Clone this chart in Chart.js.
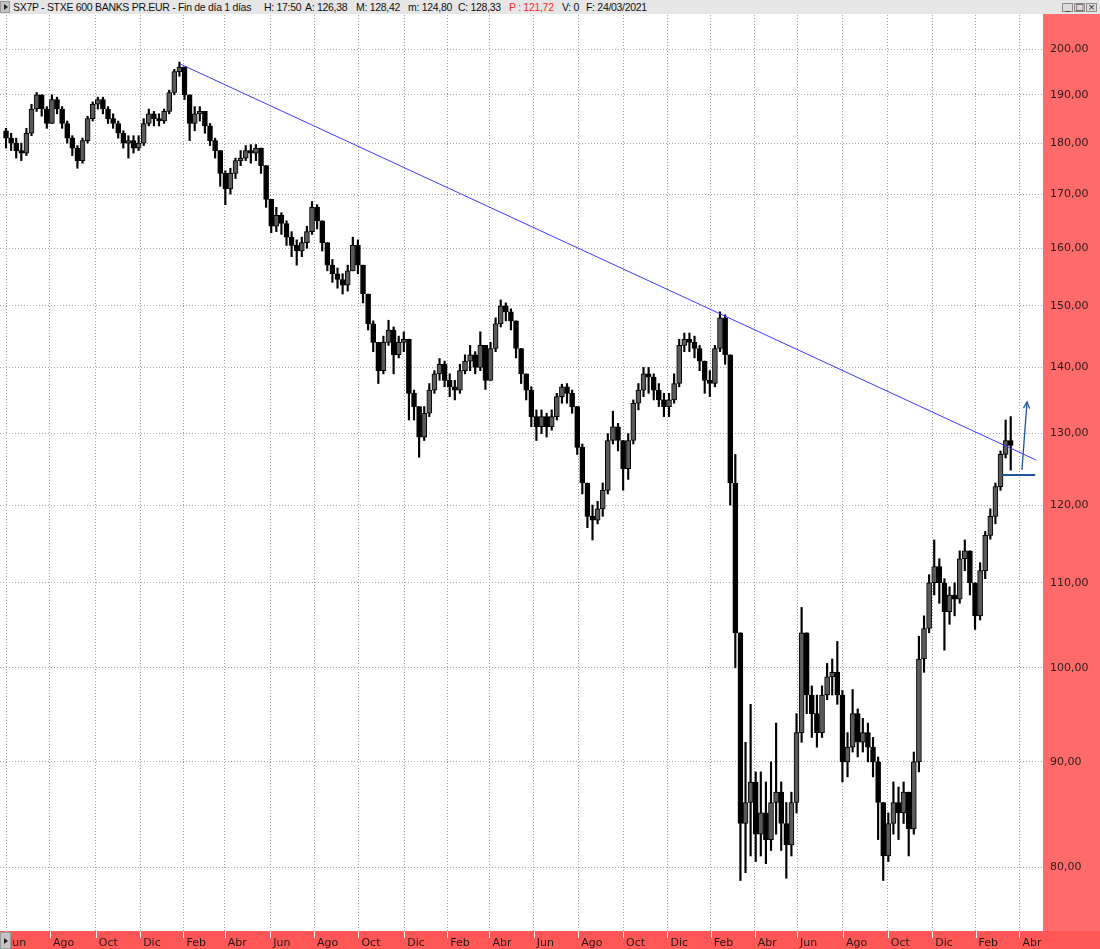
<!DOCTYPE html>
<html lang="es">
<head>
  <meta charset="UTF-8">
  <title>SX7P - STXE 600 BANKS PR.EUR</title>
  <script src="https://cdn.jsdelivr.net/npm/chart.js"></script>
  <style>
    html, body { margin: 0; padding: 0; background: #fff; }
    #wrap { position: relative; width: 1100px; height: 949px; overflow: hidden; }
    #chart { position: absolute; left: 0; top: 0; }
    .topbar {
      position: absolute; left: 0; top: 0; width: 1100px; height: 14px;
      background: #e6e6e6;
      font-family: "Liberation Sans", Arial, sans-serif; font-size: 10.5px; color: #111;
      letter-spacing: -0.3px;
    }
    .topbar span { position: absolute; top: 1px; white-space: nowrap; }
    .topbar .red { color: #ff2a2a; }
    .btn {
      position: absolute; background: #c4c4c4; border: 1px solid #9a9a9a; box-sizing: border-box;
    }
    .btn::after {
      content: ""; position: absolute; left: 3px; top: 50%; margin-top: -3px;
      border-left: 4px solid #222; border-top: 3px solid transparent; border-bottom: 3px solid transparent;
    }
    .win {
      position: absolute; top: 3px; width: 11px; height: 9px; box-sizing: border-box;
      border: 1px solid #8c8c8c; background: #dcdcdc;
      font: 9px/7px "DejaVu Sans", sans-serif; color: #222; text-align: center; letter-spacing: 0;
    }
  </style>
</head>
<body>
<div id="wrap">
  <canvas id="chart" width="1100" height="949"></canvas>
  <div class="topbar">
    <div class="btn" style="left:0;top:1px;width:10px;height:12px;"></div>
    <span style="left:13px">SX7P - STXE 600 BANKS PR.EUR - Fin de día 1 días</span>
    <span style="left:264px">H: 17:50</span>
    <span style="left:305px">A: 126,38</span>
    <span style="left:356px">M: 128,42</span>
    <span style="left:408px">m: 124,80</span>
    <span style="left:458px">C: 128,33</span>
    <span style="left:509px" class="red">P : 121,72</span>
    <span style="left:562px">V: 0</span>
    <span style="left:586px">F: 24/03/2021</span>
    <div class="win" style="left:1062px">_</div>
    <div class="win" style="left:1074px">□</div>
    <div class="win" style="left:1086px">×</div>
  </div>
  <div class="btn" style="left:0;top:932px;width:11px;height:17px;"></div>
</div>

<script>
  // axis labels (x in weeks since start of Jun 2017)
  const monthLabels = ['Jun','Ago','Oct','Dic','Feb','Abr','Jun','Ago','Oct','Dic','Feb','Abr',
                       'Jun','Ago','Oct','Dic','Feb','Abr','Jun','Ago','Oct','Dic','Feb','Abr'];
  const monthTicks = [0, 8.6, 17.6, 26.3, 34.8, 42.9, 51.8, 60.4, 69.1, 78.1, 86.5, 94.8,
                      103.5, 112.2, 121, 129.7, 138.2, 146.8, 155.1, 164.1, 172.9, 181.6, 190.1, 198.7];
  const priceTicks = [80, 90, 100, 110, 120, 130, 140, 150, 160, 170, 180, 190, 200];

  // weekly candles
  const firstOpen = 182.5;
  const weekClose = [
    181, 180, 178.5, 178, 182, 187, 190, 187, 184, 189,
    187, 184, 181, 179, 176.5, 180.5, 185, 188, 189, 187,
    185, 184, 182, 180, 180.5, 179, 180, 184, 186, 185,
    184.5, 186.5, 190.5, 195, 196, 190, 184, 186, 186.5, 183.5,
    180.5, 178.5, 174, 171, 174, 176.5, 177, 178.5, 178, 179,
    175.5, 169, 164, 166, 164.5, 162, 160.5, 159.5, 161, 163,
    167.5, 165, 161, 157, 155.5, 154.5, 153.5, 156, 160.5, 157,
    152, 147, 144, 139.5, 144, 146, 142, 144, 144.5, 136,
    134, 129.5, 133, 136.5, 139, 140.5, 138, 137, 136.5, 139.5,
    141, 142, 140, 143.5, 138, 143, 147, 150, 149, 147.5,
    143, 139, 136.5, 132.5, 131, 132.5, 131, 132.5, 135.5, 137,
    136, 134, 128, 123, 118.5, 118, 119.5, 122, 129, 131,
    129, 125, 129, 134.5, 136.5, 139, 138.5, 136.5, 135, 134,
    135, 137.5, 143.5, 144.5, 144, 143, 141, 138, 137.5, 143,
    148, 142, 123, 104, 84, 86, 88, 83, 85, 82.5,
    86, 87, 84, 82, 86, 93, 104, 97, 95, 93,
    97, 99, 99.5, 97, 90, 91.5, 95, 92, 93, 91.5,
    90, 86, 81, 84, 86, 85, 87, 83.5, 90, 101,
    104.5, 110, 112, 110, 106.5, 108.5, 108, 113, 114, 110,
    106, 111.5, 116, 118.5, 122.5, 127, 129, 128.3
  ];
  const weekHigh = [
    183, 182, 181, 180, 183, 188, 190.5, 190, 187.5, 190,
    189.5, 187.5, 184.5, 181.5, 179.5, 181, 185.5, 188.5, 189.5, 189.5,
    187.5, 186, 184.5, 182.5, 181.5, 181.5, 181.5, 185, 187, 186.5,
    186, 187, 191, 195.5, 197.1, 196, 190, 187.5, 187.5, 186.5,
    184, 181, 178.5, 174.5, 175, 177, 178.5, 179.5, 179.7, 179.7,
    179, 175.5, 169, 167.5, 166.5, 165, 163, 161.5, 162, 164,
    168.6, 168, 165, 161, 158, 156.5, 155.5, 157, 162, 161.5,
    157, 152, 147.5, 144, 145, 147.6, 146.5, 145, 145.7, 144.5,
    136.5, 134, 134, 137.5, 139.5, 141.4, 141, 139, 138, 140.5,
    142, 143.5, 142.5, 145.7, 143.5, 144, 148, 151, 150.5, 149.5,
    147.5, 143, 139, 137, 133.5, 133.5, 133, 133.5, 136, 137.4,
    137.5, 136.5, 134, 128.5, 123, 120, 120.5, 123, 130, 133.3,
    131.5, 129, 130, 135, 137.5, 140, 140, 139, 137.5, 136,
    136, 139, 144.5, 145.5, 145.5, 145, 143.5, 141, 139.5, 143.5,
    149, 148.5, 142, 127, 104, 92, 96, 89, 89, 88,
    90, 94, 88, 86, 87, 95, 107, 104, 98, 97,
    98, 100.5, 101, 103, 97.5, 93, 97.6, 95.5, 94.5, 94,
    92.5, 90.5, 86, 85, 88, 87.5, 88, 87, 91, 103.6,
    106, 111, 115.4, 113, 110.5, 109.5, 110, 114, 115.4, 114,
    110, 112.5, 116.5, 119.5, 123, 127.5, 132, 132.5
  ];
  const weekLow = [
    179, 178.5, 177, 176.5, 177.5, 181.5, 186.5, 185.5, 183, 184,
    186, 183, 180, 177.5, 175, 176, 180, 184.5, 187, 186,
    184, 183, 181, 179, 177, 178, 178.5, 179.5, 183.5, 183.5,
    183.5, 184, 186, 190, 194, 189, 180.5, 182.5, 184.5, 182,
    179.5, 177, 171.5, 168, 170, 173, 175.5, 176.5, 176, 176.5,
    174, 167.5, 162.8, 163, 162.5, 160.5, 158.5, 157, 158.5, 160,
    162.5, 163.5, 159.5, 156, 154, 153, 152, 152.5, 156, 155.5,
    150.5, 146, 142.5, 137.5, 139, 143.5, 139, 141.5, 142.5, 132,
    132, 126.6, 129, 132.5, 136, 138, 137, 135.5, 135, 136,
    139, 139.5, 139, 139.5, 136.6, 138, 142.5, 146.5, 147.5, 146,
    141.5, 137.5, 135, 131, 129, 130, 129.5, 130.5, 132, 134.5,
    134.5, 133, 127, 121.5, 117, 115.4, 117.5, 118.5, 121.5, 128.5,
    127.5, 122, 123.5, 128.5, 133.5, 135.5, 136, 135, 134, 132.5,
    132.5, 134.5, 137, 142.5, 142.5, 141.5, 139.5, 136, 135.5, 137,
    142.5, 140.5, 120, 100, 78.8, 79.5, 81, 80.5, 81, 80.3,
    81.5, 83, 81.5, 79, 81, 85, 92, 95, 92.5, 91.5,
    92.5, 96.5, 97, 96, 88, 88.5, 91, 90.5, 91, 90,
    88.5, 82.5, 78.8, 80.5, 83, 82.5, 84, 81, 83, 89,
    99.5, 104, 108.5, 107.5, 102, 105, 106, 107.5, 111.5, 108.5,
    104.4, 105.5, 110.5, 115.5, 117.5, 122, 126.5, 124.8
  ];

  // drawn lines (week, price)
  const trendLine = [{ x: 34.1, y: 196.7 }, { x: 202.0, y: 126.2 }];
  const supportLine = [{ x: 195.3, y: 124.1 }, { x: 201.8, y: 124.1 }];
  const arrowLine = [{ x: 199.2, y: 124.8 }, { x: 200.2, y: 134.7 }];

  const opens = weekClose.map((c, i) => i === 0 ? firstOpen : weekClose[i - 1]);
  const wicks = weekClose.map((c, i) => ({ x: i, y: [weekLow[i], weekHigh[i]] }));
  const bodies = weekClose.map((c, i) => ({ x: i, y: [opens[i], c] }));
  const bodyFill = weekClose.map((c, i) => c >= opens[i] ? '#5a5a5a' : '#000000');

  Chart.defaults.font.family = '"DejaVu Sans", sans-serif';

  // red axis panels and white tick marks on the time band
  const framePlugin = {
    id: 'frame',
    beforeDraw(chart) {
      const { ctx, chartArea: a, width, height } = chart;
      ctx.save();
      ctx.fillStyle = '#ffffff';
      ctx.fillRect(0, 0, width, height);
      ctx.fillStyle = '#ff6b6b';
      ctx.fillRect(a.right, 14, width - a.right, a.bottom - 14);
      ctx.fillStyle = '#ff5656';
      ctx.fillRect(0, a.bottom, width, height - a.bottom);
      ctx.restore();
    },
    afterDraw(chart) {
      const { ctx, chartArea: a } = chart;
      const xs = chart.scales.x;
      ctx.save();
      ctx.strokeStyle = 'rgba(255,255,255,0.9)';
      ctx.lineWidth = 1;
      xs.ticks.forEach(t => {
        const px = Math.round(xs.getPixelForValue(t.value)) + 0.5;
        ctx.beginPath();
        ctx.moveTo(px, a.bottom);
        ctx.lineTo(px, a.bottom + 7);
        ctx.stroke();
      });
      ctx.restore();
    }
  };

  // open arrow head at the end of the arrow dataset
  const arrowPlugin = {
    id: 'arrowHead',
    afterDatasetsDraw(chart) {
      const meta = chart.getDatasetMeta(4);
      const p0 = meta.data[0], p1 = meta.data[1];
      const ang = Math.atan2(p1.y - p0.y, p1.x - p0.x);
      const ctx = chart.ctx;
      ctx.save();
      ctx.strokeStyle = '#1f5596';
      ctx.lineWidth = 1.3;
      ctx.beginPath();
      ctx.moveTo(p1.x - 7 * Math.cos(ang - 0.45), p1.y - 7 * Math.sin(ang - 0.45));
      ctx.lineTo(p1.x, p1.y);
      ctx.lineTo(p1.x - 7 * Math.cos(ang + 0.45), p1.y - 7 * Math.sin(ang + 0.45));
      ctx.stroke();
      ctx.restore();
    }
  };

  new Chart(document.getElementById('chart'), {
    type: 'bar',
    data: {
      datasets: [
        {
          type: 'bar', data: bodies, order: 1, grouped: false,
          barThickness: 5, backgroundColor: bodyFill, borderColor: '#000000',
          borderWidth: 1, borderSkipped: false
        },
        {
          type: 'bar', data: wicks, order: 2, grouped: false,
          barThickness: 1.5, backgroundColor: '#000000', borderWidth: 0
        },
        {
          type: 'line', data: trendLine, order: 0,
          borderColor: '#3b3bff', borderWidth: 1, pointRadius: 0
        },
        {
          type: 'line', data: supportLine, order: 0,
          borderColor: '#1f5596', borderWidth: 2, pointRadius: 0
        },
        {
          type: 'line', data: arrowLine, order: 0,
          borderColor: '#1f5596', borderWidth: 1.3, pointRadius: 0
        }
      ]
    },
    options: {
      responsive: false,
      animation: false,
      layout: { padding: { top: 15, left: 0, right: 0, bottom: 0 } },
      plugins: { legend: { display: false }, tooltip: { enabled: false } },
      scales: {
        x: {
          type: 'linear', min: -1.18, max: 203.33, bounds: 'data', offset: false,
          grid: { offset: false, color: '#a6a6a6', drawTicks: false },
          border: { display: false, dash: [1, 2] },
          afterBuildTicks: s => { s.ticks = monthTicks.map(v => ({ value: v })); },
          afterFit: s => { s.height = 18; },
          ticks: {
            autoSkip: false, maxRotation: 0, minRotation: 0, align: 'start',
            labelOffset: 3, padding: 6, color: '#2a1a1a', font: { size: 11 },
            callback: (v, i) => monthLabels[i]
          }
        },
        y: {
          type: 'logarithmic', position: 'right', min: 74.47, max: 207.77, bounds: 'data',
          grid: { color: '#a6a6a6', drawTicks: false },
          border: { display: false, dash: [1, 2] },
          afterBuildTicks: s => { s.ticks = priceTicks.map(v => ({ value: v })); },
          afterFit: s => { s.width = 57; },
          ticks: {
            autoSkip: false, padding: 7, color: '#2a1a1a', font: { size: 11 },
            callback: v => Number(v).toFixed(2).replace('.', ',')
          }
        }
      }
    },
    plugins: [framePlugin, arrowPlugin]
  });
</script>
</body>
</html>
